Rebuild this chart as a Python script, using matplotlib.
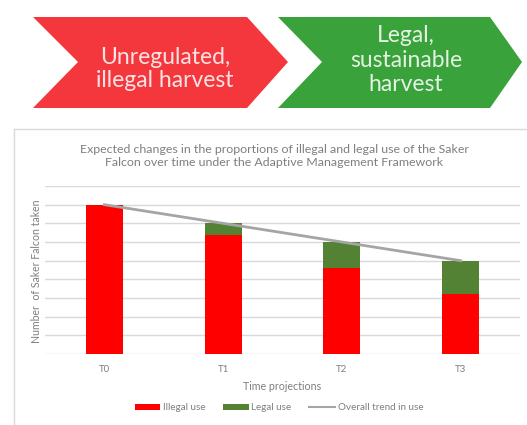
import matplotlib
matplotlib.use("Agg")
import matplotlib.pyplot as plt
from matplotlib.patches import Polygon, Patch
from matplotlib.lines import Line2D
import numpy as np

# ---- data ----
categories = ["T0", "T1", "T2", "T3"]
illegal_use = [8.0, 6.35, 4.6, 3.2]
legal_use = [0.0, 0.65, 1.4, 1.8]
overall_trend = [8.0, 7.0, 6.0, 5.0]

title_text = ("Expected changes in the proportions of illegal and legal use of the Saker\n"
              "Falcon over time under the Adaptive Management Framework")
ylabel_text = "Number  of Saker Falcon taken"
xlabel_text = "Time projections"
legend_labels = ["Illegal use", "Legal use", "Overall trend in use"]
banner_left = "Unregulated,\nillegal harvest"
banner_right = "Legal,\nsustainable\nharvest"

RED = "#FF0000"
GREEN = "#548235"
TREND = "#A5A5A5"
GRID = "#D9D9D9"
TXT = "#7F7F7F"

plt.rcParams["font.family"] = ["Lato", "DejaVu Sans"]

W, H = 527, 425
fig = plt.figure(figsize=(W / 100, H / 100), dpi=100)
fig.patch.set_facecolor("white")

# ---- background overlay in pixel coords ----
bg = fig.add_axes([0, 0, 1, 1])
bg.set_xlim(0, W)
bg.set_ylim(H, 0)
bg.axis("off")

red_poly = [(33, 17), (247, 17), (288, 62), (247, 108), (33, 108), (78, 62)]
green_poly = [(278, 17), (490, 17), (522, 62), (490, 108), (278, 108), (322, 62)]
bg.add_patch(Polygon(red_poly, closed=True, facecolor="#F4373D", edgecolor="none"))
bg.add_patch(Polygon(green_poly, closed=True, facecolor="#3AA23A", edgecolor="none"))
bg.text(165, 69, banner_left, ha="center", va="center", color="#FBE3E3",
        fontsize=16.5, linespacing=1.12)
bg.text(406, 60, banner_right, ha="center", va="center", color="#E3F3E3",
        fontsize=16.5, linespacing=1.18)

# chart frame
bg.plot([14, 14], [129, 425], color=GRID, lw=1)
bg.plot([14, 527], [129, 129], color=GRID, lw=1)

bg.text(274, 156, title_text, ha="center", va="center", color=TXT,
        fontsize=8.9, linespacing=1.25)

# ---- chart axes ----
left, right, top, bottom = 45, 520, 186, 354
ax = fig.add_axes([left / W, 1 - bottom / H, (right - left) / W, (bottom - top) / H])
ax.set_facecolor("none")
x = np.arange(len(categories))
ax.bar(x, illegal_use, width=0.31, color=RED, zorder=3)
ax.bar(x, legal_use, width=0.31, bottom=illegal_use, color=GREEN, zorder=3)
ax.plot(x, overall_trend, color=TREND, lw=2, zorder=4)

ax.set_xlim(-0.5, len(categories) - 0.5)
ax.set_ylim(0, 9)
ax.set_yticks(np.arange(0, 10, 1))
ax.set_yticklabels([])
ax.yaxis.grid(True, color=GRID, lw=1, zorder=0)
ax.set_axisbelow(True)
ax.tick_params(axis="both", length=0)
ax.set_xticks(x)
ax.set_xticklabels(categories, color=TXT, fontsize=7)
ax.tick_params(axis="x", pad=8)
for s in ax.spines.values():
    s.set_visible(False)

bg.text(37, 271, ylabel_text, rotation=90, ha="center", va="center",
        color=TXT, fontsize=7.6)
bg.text(282, 387, xlabel_text, ha="center", va="center", color=TXT, fontsize=7.7)

handles = [Patch(facecolor=RED, edgecolor="none"),
           Patch(facecolor=GREEN, edgecolor="none"),
           Line2D([0], [0], color=TREND, lw=1.5)]
fig.legend(handles, legend_labels, loc="center", bbox_to_anchor=(279 / W, 1 - 408 / H),
           ncol=3, frameon=False, fontsize=7.1, handlelength=2.6, handleheight=0.6,
           handletextpad=0.25, columnspacing=1.8, labelcolor=TXT)

fig.savefig("out.png", dpi=100)
